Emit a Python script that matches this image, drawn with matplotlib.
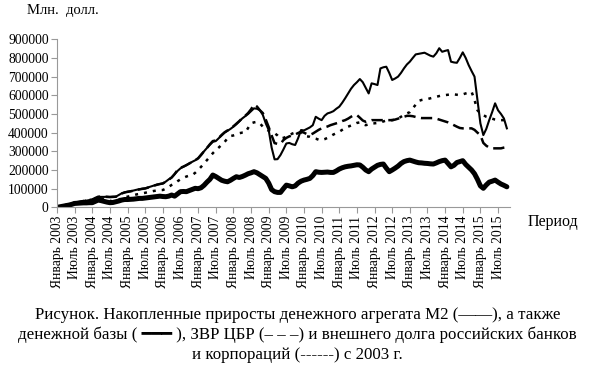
import matplotlib
matplotlib.use('Agg')
import matplotlib.pyplot as plt

# monthly values, Jan 2003 .. Oct 2015 (mln USD, accumulated increments)
m2 = [
    0, 4000, 8000, 12000, 16000, 20000, 25000, 27000, 30000, 33000, 36000, 39000,
    39000, 47000, 55000, 56000, 56000, 57000, 56000, 57000, 57000, 66000, 75000, 80000,
    84000, 86000, 90000, 94000, 97000, 100000, 102000, 107000, 112000, 117000, 122000, 125000,
    128000, 138000, 150000, 160000, 178000, 195000, 209000, 218000, 226000, 235000, 244000, 252000,
    264000, 283000, 300000, 318000, 335000, 351000, 355000, 370000, 385000, 400000, 410000, 420000,
    432000, 445000, 460000, 476000, 488000, 500000, 515000, 530000, 528000, 520000, 495000, 450000,
    414000, 320000, 257000, 258000, 280000, 310000, 342000, 345000, 338000, 334000, 370000, 414000,
    412000, 420000, 428000, 440000, 485000, 475000, 467000, 490000, 503000, 508000, 515000, 528000,
    539000, 560000, 584000, 610000, 635000, 655000, 670000, 687000, 670000, 640000, 610000, 664000,
    660000, 655000, 744000, 750000, 753000, 720000, 682000, 690000, 700000, 720000, 744000, 765000,
    780000, 800000, 819000, 822000, 825000, 828000, 820000, 812000, 807000, 825000, 852000, 833000,
    838000, 842000, 780000, 776000, 774000, 800000, 830000, 800000, 762000, 730000, 700000, 575000,
    450000, 387000, 420000, 467000, 510000, 557000, 520000, 500000, 476000, 423000,
]

base = [
    0, 3000, 6000, 9000, 12000, 16000, 21000, 22000, 23000, 24000, 24000, 25000,
    25000, 32000, 39000, 36000, 32000, 28000, 25000, 26000, 30000, 34000, 39000, 42000,
    42000, 43000, 44000, 46000, 48000, 48000, 50000, 52000, 54000, 56000, 58000, 60000,
    58000, 57000, 60000, 66000, 60000, 72000, 84000, 85000, 84000, 90000, 96000, 102000,
    100000, 105000, 118000, 135000, 150000, 173000, 165000, 155000, 145000, 140000, 137000, 145000,
    155000, 164000, 160000, 165000, 172000, 180000, 185000, 191000, 185000, 175000, 165000, 155000,
    130000, 95000, 84000, 80000, 80000, 100000, 119000, 115000, 110000, 115000, 130000, 140000,
    146000, 150000, 155000, 170000, 191000, 188000, 187000, 188000, 189000, 187000, 187000, 195000,
    205000, 212000, 217000, 220000, 222000, 225000, 228000, 227000, 215000, 200000, 191000, 205000,
    215000, 225000, 230000, 232000, 210000, 191000, 200000, 210000, 221000, 235000, 245000, 250000,
    253000, 248000, 243000, 239000, 238000, 236000, 235000, 233000, 232000, 238000, 245000, 250000,
    253000, 235000, 217000, 225000, 240000, 245000, 250000, 230000, 215000, 200000, 180000, 150000,
    115000, 102000, 120000, 135000, 140000, 146000, 135000, 125000, 118000, 110000,
]

reserves = [
    0, 4000, 9000, 13000, 17000, 21000, 26000, 28000, 31000, 34000, 37000, 40000,
    42000, 50000, 57000, 58000, 57000, 56000, 55000, 56000, 57000, 65000, 74000, 80000,
    83000, 86000, 89000, 93000, 96000, 99000, 101000, 106000, 111000, 116000, 121000, 125000,
    128000, 137000, 148000, 160000, 178000, 200000, 212000, 218000, 226000, 235000, 244000, 252000,
    262000, 280000, 300000, 318000, 338000, 355000, 358000, 372000, 388000, 402000, 412000, 422000,
    434000, 448000, 462000, 478000, 490000, 505000, 525000, 550000, 540000, 520000, 505000, 470000,
    430000, 385000, 344000, 340000, 340000, 360000, 372000, 380000, 385000, 390000, 398000, 405000,
    400000, 392000, 388000, 395000, 405000, 415000, 423000, 428000, 433000, 440000, 445000, 450000,
    455000, 462000, 467000, 475000, 485000, 494000, 494000, 480000, 465000, 458000, 462000, 467000,
    467000, 467000, 467000, 467000, 467000, 467000, 467000, 470000, 475000, 480000, 485000, 490000,
    490000, 488000, 484000, 480000, 478000, 478000, 478000, 478000, 478000, 475000, 470000, 465000,
    460000, 455000, 448000, 440000, 432000, 425000, 423000, 423000, 423000, 423000, 415000, 400000,
    387000, 345000, 330000, 320000, 316000, 316000, 316000, 316000, 320000, 323000,
]

debt = [
    0, 4000, 8000, 12000, 16000, 20000, 24000, 27000, 30000, 33000, 36000, 38000,
    40000, 44000, 48000, 46000, 42000, 38000, 35000, 32000, 30000, 40000, 50000, 55000,
    57000, 61000, 65000, 69000, 72000, 75000, 78000, 82000, 85000, 88000, 90000, 92000,
    93000, 100000, 110000, 120000, 128000, 140000, 150000, 158000, 165000, 170000, 173000, 185000,
    200000, 217000, 235000, 253000, 271000, 290000, 306000, 320000, 335000, 350000, 370000, 382000,
    385000, 390000, 397000, 400000, 400000, 425000, 450000, 455000, 458000, 450000, 432000, 420000,
    410000, 400000, 397000, 385000, 369000, 372000, 378000, 385000, 395000, 400000, 405000, 400000,
    390000, 380000, 378000, 372000, 368000, 362000, 360000, 365000, 372000, 380000, 390000, 397000,
    405000, 415000, 425000, 432000, 438000, 445000, 452000, 455000, 445000, 440000, 445000, 450000,
    450000, 452000, 455000, 460000, 465000, 467000, 467000, 470000, 476000, 485000, 495000, 503000,
    510000, 530000, 550000, 570000, 575000, 578000, 580000, 584000, 588000, 592000, 596000, 600000,
    601000, 603000, 605000, 605000, 603000, 601000, 605000, 610000, 614000, 619000, 575000, 520000,
    503000, 494000, 485000, 480000, 475000, 470000, 467000, 467000, 467000, 465000,
]

years = list(range(2003, 2016))
tick_labels = []
for y in years:
    tick_labels += ['Январь %d' % y, 'Июль %d' % y]

plt.rcParams['font.family'] = ['Liberation Serif', 'DejaVu Sans']

fig = plt.figure(figsize=(5.95, 3.67), dpi=100)
ax = fig.add_axes([0.0958, 0.435, 0.761, 0.458])

months = list(range(len(m2)))
ax.plot(months, m2, color='black', lw=1.5)
ax.plot(months, base, color='black', lw=3.6, solid_capstyle='round')
ax.plot(months, reserves, color='black', lw=1.8, dashes=(4.5, 2.2))
ax.plot(months, debt, color='black', lw=1.8, dashes=(1.2, 2.4))

ax.set_xlim(0, 154)
ax.set_ylim(0, 900000)
ax.set_xticks(range(0, 6 * len(tick_labels), 6))
ax.set_xticklabels(tick_labels, rotation=90, fontsize=9.8)
ax.set_yticks(range(0, 900001, 100000))
ax.set_yticklabels([str(v) for v in range(0, 900001, 100000)], fontsize=9.8)
ax.tick_params(axis='both', color='#999999', length=4, width=0.8, pad=2)
for side in ['top', 'right']:
    ax.spines[side].set_visible(False)
for side in ['left', 'bottom']:
    ax.spines[side].set_color('#999999')
    ax.spines[side].set_linewidth(0.8)

fig.text(0.045, 0.972, 'Млн.  долл.', fontsize=10.5, va='center')
fig.text(0.886, 0.395, 'Период', fontsize=11.5, va='center')

caption = ('Рисунок. Накопленные приросты денежного агрегата М2 (——), а также\n'
           'денежной базы ( ━━━ ), ЗВР ЦБР (– – –) и внешнего долга российских банков\n'
           'и корпораций (------) с 2003 г.')
fig.text(0.5, 0.087, caption, fontsize=12.2, ha='center', va='center', linespacing=1.3)

fig.savefig('out.png', dpi=100)
